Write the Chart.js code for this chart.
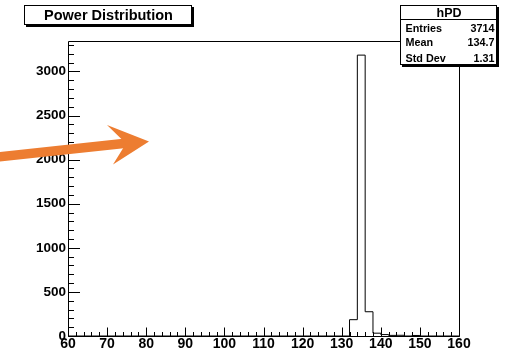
<!DOCTYPE html>
<html>
<head>
<meta charset="utf-8">
<script src="https://cdn.jsdelivr.net/npm/chart.js@4.4.1/dist/chart.umd.min.js"></script>
<style>
  html, body { margin: 0; padding: 0; background: #fff; }
  canvas { display: block; }
</style>
</head>
<body>
<canvas id="hist" width="513" height="354"></canvas>
<script>
// histogram hPD: low edge of each bin and its content (last edge closes the range)
const binEdges = [60, 132, 134, 136, 138, 140, 142, 144, 146, 148, 150, 160];
const binCounts = [0, 185, 3185, 275, 32, 16, 7, 8, 0, 6, 0, 0];

const xTickLabels = [60, 70, 80, 90, 100, 110, 120, 130, 140, 150, 160];
const yTickLabels = [0, 500, 1000, 1500, 2000, 2500, 3000];

const titleText = "Power Distribution";
const statsName = "hPD";
const statsRows = [["Entries", "3714"], ["Mean", "134.7"], ["Std Dev", "1.31"]];

const FONT = "'Liberation Sans', Arial, Helvetica, sans-serif";

// ROOT-like frame, inward ticks, title pave, stats box and the orange arrow
const rootDecor = {
    id: "rootDecor",
    afterDraw(chart) {
        const ctx = chart.ctx;
        const a = chart.chartArea;
        const xs = chart.scales.x;
        const ys = chart.scales.y;
        const L = Math.round(a.left) + 0.5;
        const R = Math.round(a.right) + 0.5;
        const T = Math.round(a.top) + 0.5;
        const B = Math.round(a.bottom) + 0.5;

        ctx.save();
        ctx.strokeStyle = "#000";
        ctx.lineWidth = 1;
        ctx.beginPath();
        ctx.moveTo(L, T); ctx.lineTo(R, T); ctx.lineTo(R, B); ctx.lineTo(L, B); ctx.closePath();
        ctx.stroke();

        // x ticks, major every 10, minor every 2
        ctx.beginPath();
        for (let v = 60; v <= 160; v += 2) {
            const px = Math.round(xs.getPixelForValue(v)) + 0.5;
            const len = (v % 10 === 0) ? 9 : 4.5;
            ctx.moveTo(px, B); ctx.lineTo(px, B - len);
        }
        // y ticks, major every 500, minor every 100
        for (let v = 0; v <= ys.max; v += 100) {
            const py = Math.round(ys.getPixelForValue(v)) + 0.5;
            const len = (v % 500 === 0) ? 11.5 : 5.5;
            ctx.moveTo(L, py); ctx.lineTo(L + len, py);
        }
        ctx.stroke();

        // title pave
        drawPave(ctx, 24, 5, 168, 20);
        ctx.fillStyle = "#000";
        ctx.font = "bold 14.5px " + FONT;
        ctx.textAlign = "center";
        ctx.textBaseline = "middle";
        ctx.fillText(titleText, 108.5, 16);

        // stats box
        drawPave(ctx, 400, 5, 97, 60);
        ctx.beginPath();
        ctx.moveTo(400, 19.5); ctx.lineTo(497, 19.5);
        ctx.stroke();
        ctx.fillStyle = "#000";
        ctx.font = "bold 12.5px " + FONT;
        ctx.textAlign = "center";
        ctx.textBaseline = "middle";
        ctx.fillText(statsName, 449, 13.5);
        ctx.font = "bold 10.8px " + FONT;
        const rowY = [29, 43.5, 59];
        statsRows.forEach((row, i) => {
            ctx.textAlign = "left";
            ctx.fillText(row[0], 405.5, rowY[i]);
            ctx.textAlign = "right";
            ctx.fillText(row[1], 494.5, rowY[i]);
        });

        // orange arrow
        ctx.strokeStyle = "rgb(237,125,49)";
        ctx.fillStyle = "rgb(237,125,49)";
        ctx.lineWidth = 9.5;
        ctx.beginPath();
        ctx.moveTo(-2, 157); ctx.lineTo(128, 143);
        ctx.stroke();
        ctx.beginPath();
        ctx.moveTo(149, 141.5);
        ctx.lineTo(107, 125);
        ctx.lineTo(126, 143.5);
        ctx.lineTo(113, 164.5);
        ctx.closePath();
        ctx.fill();
        ctx.restore();
    }
};

function drawPave(ctx, x, y, w, h) {
    ctx.fillStyle = "#000";
    ctx.fillRect(x + 2, y + 2, w, h);
    ctx.fillStyle = "#fff";
    ctx.fillRect(x, y, w, h);
    ctx.strokeStyle = "#000";
    ctx.lineWidth = 1;
    ctx.strokeRect(x + 0.5, y + 0.5, w - 1, h - 1);
}

const points = binEdges.map((x, i) => ({ x: x, y: binCounts[i] }));

new Chart(document.getElementById("hist"), {
    type: "line",
    data: {
        datasets: [{
            data: points,
            stepped: "before",
            borderColor: "#000",
            borderWidth: 1,
            pointRadius: 0,
            fill: false
        }]
    },
    options: {
        responsive: false,
        animation: false,
        layout: { padding: { left: 0, top: 41, right: 54, bottom: 0 } },
        plugins: { legend: { display: false }, tooltip: { enabled: false }, title: { display: false } },
        scales: {
            x: {
                type: "linear",
                min: 60,
                max: 160,
                afterBuildTicks: s => { s.ticks = xTickLabels.map(v => ({ value: v })); },
                afterFit: s => { s.height = 18; },
                ticks: { color: "#000", font: { family: FONT, size: 14, weight: "bold" }, padding: 0, maxRotation: 0, autoSkip: false, callback: v => String(v) },
                grid: { display: false, drawTicks: false },
                border: { display: false }
            },
            y: {
                type: "linear",
                min: 0,
                max: 3345,
                afterBuildTicks: s => { s.ticks = yTickLabels.map(v => ({ value: v })); },
                afterFit: s => { s.width = 68; },
                ticks: { color: "#000", font: { family: FONT, size: 13.5, weight: "bold" }, padding: 2, autoSkip: false, callback: v => String(v) },
                grid: { display: false, drawTicks: false },
                border: { display: false }
            }
        }
    },
    plugins: [rootDecor]
});
</script>
</body>
</html>
